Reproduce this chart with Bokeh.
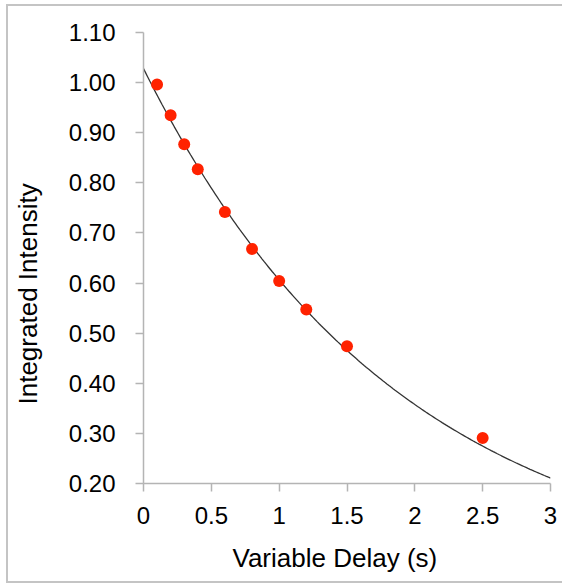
import numpy as np
from bokeh.plotting import figure
from bokeh.models import FixedTicker, Range1d, Title
from bokeh.embed import file_html
from bokeh.resources import INLINE

# ---- data ----
delay = [0.1, 0.2, 0.3, 0.4, 0.6, 0.8, 1.0, 1.2, 1.5, 2.5]
intensity = [0.996, 0.935, 0.877, 0.827, 0.742, 0.668, 0.604, 0.547, 0.474, 0.291]

x_ticks = [0, 0.5, 1, 1.5, 2, 2.5, 3]
x_tick_labels = ["0", "0.5", "1", "1.5", "2", "2.5", "3"]
y_ticks = [0.20, 0.30, 0.40, 0.50, 0.60, 0.70, 0.80, 0.90, 1.00, 1.10]
y_tick_labels = ["0.20", "0.30", "0.40", "0.50", "0.60", "0.70", "0.80", "0.90", "1.00", "1.10"]

x_title = "Variable Delay (s)"
y_title = "Integrated Intensity"

# exponential trendline I = A * exp(-k t), parameters
trend_amplitude = 1.028
trend_rate = 0.528
fit_x = np.linspace(x_ticks[0], x_ticks[-1], 200)
fit_y = trend_amplitude * np.exp(-trend_rate * fit_x)

FONT = "Liberation Sans"
AXIS_GRAY = "#b4b4b4"
BOX = "linear-gradient(#c4c4c4, #c4c4c4)"

p = figure(width=582, height=586,
           x_range=Range1d(x_ticks[0], x_ticks[-1]),
           y_range=Range1d(y_ticks[0], y_ticks[-1]),
           output_backend="svg", toolbar_location=None,
           min_border_left=163, min_border_right=12,
           min_border_top=32, min_border_bottom=102)
p.styles = {
    "margin-left": "-20px",
    "background": (f"{BOX} 26px 4px / 2px 579px no-repeat, "
                   f"{BOX} 26px 4px / 600px 2px no-repeat, "
                   f"{BOX} 26px 581px / 600px 2px no-repeat"),
}
p.grid.visible = False
p.outline_line_color = None
p.background_fill_color = "white"
p.border_fill_color = None

for ax in (p.xaxis[0], p.yaxis[0]):
    ax.axis_line_color = AXIS_GRAY
    ax.axis_line_width = 1.5
    ax.major_tick_line_color = AXIS_GRAY
    ax.major_tick_line_width = 1.5
    ax.major_tick_out = 8
    ax.major_tick_in = 0
    ax.minor_tick_line_color = None
    ax.major_label_text_font = FONT
    ax.major_label_text_font_size = "24px"
    ax.major_label_text_color = "black"

p.xaxis.ticker = FixedTicker(ticks=x_ticks)
p.xaxis.major_label_overrides = dict(zip(x_ticks, x_tick_labels))
p.xaxis.major_label_standoff = 15
p.yaxis.ticker = FixedTicker(ticks=y_ticks)
p.yaxis.major_label_overrides = dict(zip(y_ticks, y_tick_labels))
p.yaxis.major_label_standoff = 20

p.line(fit_x, fit_y, line_color="#333333", line_width=1.3)
p.scatter(delay, intensity, size=12, fill_color="#ff2200", line_color=None)

p.add_layout(Title(text=x_title, align="left", offset=89, standoff=28,
                   text_font=FONT, text_font_size="26px", text_font_style="normal",
                   text_color="black"), "below")
p.add_layout(Title(text=y_title, align="left", offset=79, standoff=45,
                   text_font=FONT, text_font_size="26px", text_font_style="normal",
                   text_color="black"), "left")

open("out.html", "w").write(file_html(p, INLINE))
